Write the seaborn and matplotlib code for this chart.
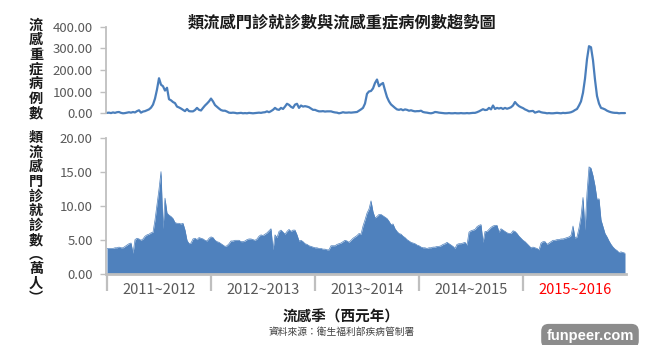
import numpy as np
import pandas as pd
import matplotlib
matplotlib.use("Agg")
import matplotlib.pyplot as plt
import seaborn as sns

# ---------------- data (weekly) ----------------
seasons = ["2011~2012", "2012~2013", "2013~2014", "2014~2015", "2015~2016"]

# 類流感門診就診數（萬人）, one list per flu season (52 weeks each)
ili_2011 = [3.8, 3.8, 3.8, 3.8, 3.9, 3.9, 4.0, 3.9, 3.9, 4.1, 4.3, 4.5, 4.6, 3.1, 5.1, 5.3, 5.2, 5.0,
            5.2, 5.6, 5.8, 5.9, 6.1, 6.2, 8.0, 10.3, 12.5, 15.1, 6.7, 11.2, 9.0, 8.7, 8.5, 8.2, 7.6,
            7.5, 7.5, 7.4, 7.5, 6.5, 5.0, 4.5, 4.6, 5.2, 5.3, 5.1, 5.4, 5.3, 5.2, 5.0, 4.9, 5.3]
ili_2012 = [5.5, 5.4, 5.0, 4.8, 4.7, 4.5, 4.3, 4.1, 4.2, 4.5, 4.9, 4.9, 5.0, 5.0, 5.0, 4.8, 4.8, 4.9,
            5.1, 5.2, 5.2, 5.1, 5.0, 5.2, 5.6, 5.8, 5.7, 5.9, 6.1, 6.4, 6.7, 3.6, 5.8, 5.4, 6.3, 6.5,
            6.2, 5.9, 6.3, 6.6, 6.3, 6.5, 6.5, 5.8, 4.9, 5.0, 4.8, 4.5, 4.4, 4.2, 4.1, 4.0]
ili_2013 = [3.9, 3.9, 3.8, 3.8, 3.7, 3.7, 3.6, 3.6, 4.2, 4.2, 4.2, 4.4, 4.5, 4.6, 4.8, 5.0, 4.9, 4.7,
            5.0, 5.3, 5.5, 5.7, 6.0, 5.9, 7.1, 8.0, 9.0, 9.6, 10.8, 9.2, 8.3, 8.5, 8.8, 8.8, 8.6, 8.4,
            8.2, 7.8, 7.3, 7.4, 6.7, 6.3, 6.0, 5.9, 5.6, 5.4, 5.1, 4.9, 4.7, 4.6, 4.5, 4.3]
ili_2014 = [4.2, 4.0, 3.9, 3.9, 3.8, 3.9, 3.9, 4.0, 4.0, 4.1, 4.1, 4.2, 4.4, 4.5, 4.7, 4.5, 4.3, 4.1,
            3.8, 4.4, 4.5, 4.5, 4.6, 4.7, 4.3, 6.2, 6.4, 6.5, 6.6, 7.0, 7.2, 7.3, 4.7, 6.3, 6.3, 6.6,
            6.9, 7.1, 7.2, 7.2, 6.2, 6.7, 6.5, 6.3, 6.1, 6.0, 6.0, 6.4, 6.3, 6.0, 5.6, 5.3]
ili_2015 = [5.0, 4.8, 4.5, 4.2, 3.9, 4.0, 3.9, 3.8, 3.6, 4.6, 4.8, 4.8, 4.4, 4.6, 4.8, 5.0, 5.0, 5.1,
            5.1, 5.2, 5.2, 5.3, 5.4, 5.5, 5.7, 7.1, 5.3, 5.5, 6.8, 8.5, 11.3, 6.5, 12.0, 15.8, 15.6,
            14.5, 13.0, 11.0, 11.1, 8.0, 7.0, 6.0, 5.5, 4.9, 4.4, 4.0, 3.7, 3.5, 3.2, 3.3, 3.2, 3.1]

# 流感重症病例數, one list per flu season
sev_2011 = [2, 3, 1, 4, 2, 5, 6, 2, 0, 1, 3, 5, 3, 6, 4, 10, 14, 3, 8, 10, 14, 18, 26, 40, 68, 110,
            162, 132, 125, 105, 118, 65, 60, 52, 47, 31, 27, 22, 16, 10, 20, 10, 9, 9, 15, 25, 16,
            13, 25, 36, 45, 55]
sev_2012 = [68, 55, 38, 30, 22, 15, 12, 12, 8, 3, 2, 3, 2, 0, 1, 2, 0, 1, 0, 2, 1, 0, 1, 2, 3, 2, 4,
            5, 9, 5, 10, 16, 25, 18, 16, 25, 20, 31, 44, 39, 30, 25, 40, 44, 25, 36, 31, 33, 31, 28,
            22, 16]
sev_2013 = [16, 12, 9, 9, 10, 8, 9, 9, 9, 6, 4, 3, 0, 2, 5, 3, 3, 4, 3, 4, 5, 6, 12, 18, 25, 45, 90,
            101, 103, 115, 140, 156, 125, 134, 140, 106, 75, 55, 41, 33, 25, 18, 16, 19, 14, 18, 16,
            12, 14, 11, 9, 10]
sev_2014 = [10, 12, 6, 4, 3, 1, 0, 2, 6, 5, 3, 2, 1, 0, 0, 1, 0, 0, 1, 0, 0, 1, 0, 0, 1, 0, 1, 2, 2,
            5, 9, 14, 19, 15, 16, 25, 18, 36, 20, 25, 22, 25, 20, 25, 21, 24, 28, 36, 52, 41, 33, 28]
sev_2015 = [24, 18, 14, 9, 10, 11, 3, 6, 9, 5, 3, 2, 0, 1, 0, 0, 1, 2, 1, 0, 2, 1, 2, 3, 5, 9, 15,
            20, 36, 55, 95, 160, 250, 310, 305, 245, 155, 80, 45, 25, 22, 18, 12, 8, 5, 3, 2, 2, 0,
            1, 1, 1]

ili = ili_2011 + ili_2012 + ili_2013 + ili_2014 + ili_2015
severe = sev_2011 + sev_2012 + sev_2013 + sev_2014 + sev_2015
season_len = 52

df = pd.DataFrame({"week": np.arange(len(ili)), "ili": ili, "severe": severe})

# ---------------- style ----------------
sns.set_theme(style="white")
plt.rcParams["font.family"] = ["Noto Sans CJK TC", "DejaVu Sans"]

LINE = "#4a7ebb"
FILL = "#4f81bd"
AXC = "#bfbfbf"
TXT = "#595959"

W, H = 660, 345
fig = plt.figure(figsize=(W / 100, H / 100), dpi=100)
fig.patch.set_facecolor("white")

def fx(px):
    return px / W

def fy(py):
    return 1 - py / H

ax1 = fig.add_axes([fx(106), fy(113.3), fx(520), 86.6 / H])
ax2 = fig.add_axes([fx(106), fy(274.3), fx(520), 136 / H])

# top: severe cases line
sns.lineplot(data=df, x="week", y="severe", ax=ax1, color=LINE, linewidth=1.6, clip_on=False)
# bottom: ILI visits area
sns.lineplot(data=df, x="week", y="ili", ax=ax2, color=FILL, linewidth=0.5)
ax2.fill_between(df["week"], df["ili"], 0, color=FILL, linewidth=0)

n = len(df)
for ax in (ax1, ax2):
    ax.set_xlim(-0.5, n - 0.5)
    ax.set_xlabel("")
    ax.set_ylabel("")
    ax.set_facecolor("white")
    for s in ("top", "right"):
        ax.spines[s].set_visible(False)
    ax.spines["left"].set_color(AXC)
    ax.spines["left"].set_linewidth(1.3)
    ax.tick_params(axis="y", left=True, length=4.5, width=1, color=AXC,
                   labelcolor=TXT, labelsize=9.5, pad=5)

ax1.set_ylim(0, 400)
ax1.set_yticks(np.arange(0, 401, 100))
ax1.set_yticklabels([f"{v:.2f}" for v in np.arange(0, 401, 100)])
ax1.spines["bottom"].set_visible(False)
ax1.set_xticks([])

ax2.set_ylim(0, 20)
ax2.set_yticks(np.arange(0, 21, 5))
ax2.set_yticklabels([f"{v:.2f}" for v in np.arange(0, 21, 5)])
ax2.spines["bottom"].set_color(AXC)
ax2.spines["bottom"].set_linewidth(2)

bounds = [i * season_len for i in range(len(seasons))]
centers = [i * season_len + season_len / 2 for i in range(len(seasons))]
ax2.set_xticks(bounds)
ax2.set_xticklabels([])
ax2.set_xticks(centers, minor=True)
ax2.set_xticklabels(seasons, minor=True)
ax2.tick_params(axis="x", which="major", bottom=True, length=12, width=1.6, color=AXC)
ax2.tick_params(axis="x", which="minor", bottom=True, length=0, pad=6,
                labelsize=10.5, labelcolor=TXT)
for lab in ax2.get_xticklabels(minor=True):
    if lab.get_text() == "2015~2016":
        lab.set_color("#ff0000")

# ---------------- texts ----------------
fig.text(fx(342), fy(22.7), "類流感門診就診數與流感重症病例數趨勢圖", ha="center", va="center",
         fontsize=11.7, fontweight="bold", color="#1a1a1a")

# stacked (vertical) axis titles, one character per text
for i, ch in enumerate("流感重症病例數"):
    fig.text(fx(36), fy(25.5 + 14.6 * i), ch, ha="center", va="center",
             fontsize=10.2, fontweight="bold", color="#1a1a1a")

for i, ch in enumerate(list("類流感門診就診數") + ["︵", "萬", "人", "︶"]):
    fig.text(fx(36), fy(138 + 14.6 * i), ch, ha="center", va="center",
             fontsize=10.2, fontweight="bold", color="#1a1a1a")

fig.text(fx(341), fy(317), "流感季（西元年）", ha="center", va="center",
         fontsize=10.5, fontweight="bold", color="#1a1a1a")
fig.text(fx(342), fy(332), "資料來源：衛生福利部疾病管制署", ha="center", va="center",
         fontsize=7, color="#404040")

fig.text(fx(590), fy(336), "funpeer.com", ha="center", va="center", family="Liberation Sans",
         fontweight="bold", fontsize=10.5, color="white",
         bbox=dict(boxstyle="round,pad=0.35,rounding_size=0.5", fc="#8c8c8c", ec="none"))

fig.savefig("out.png", dpi=100)
